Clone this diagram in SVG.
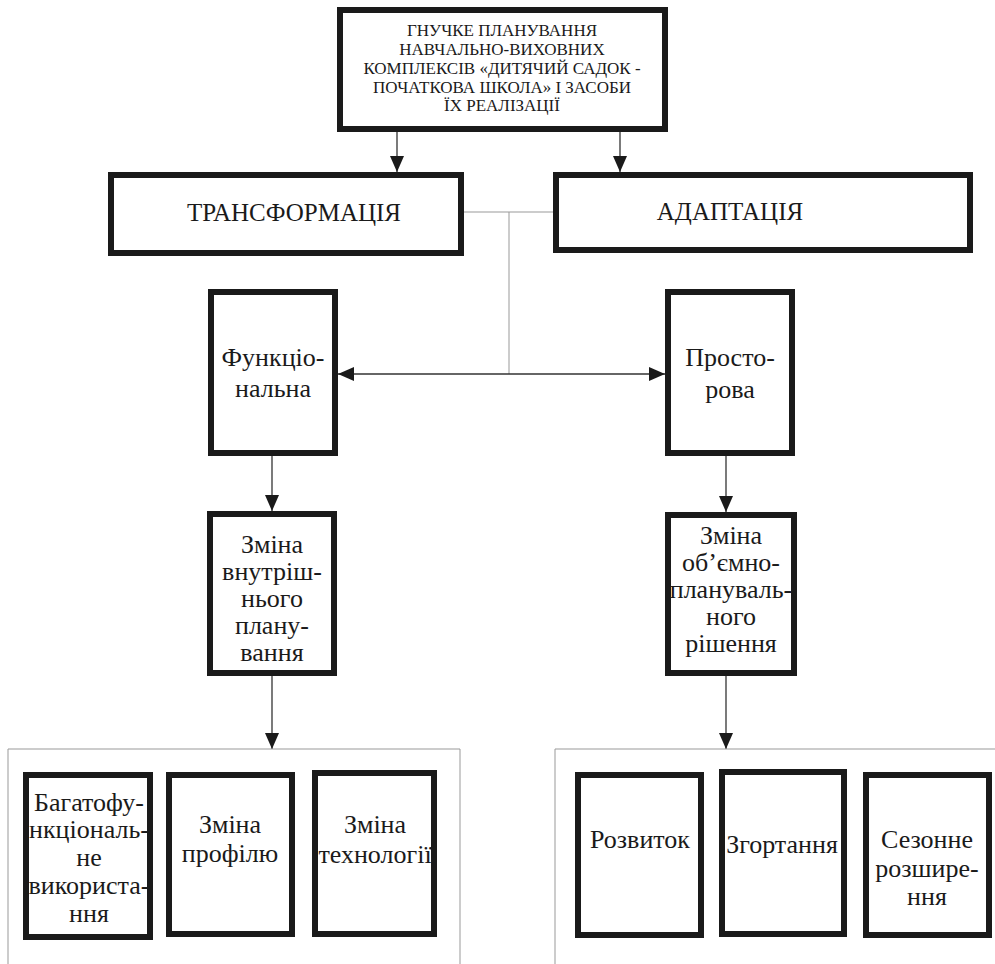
<svg xmlns="http://www.w3.org/2000/svg" width="995" height="964" viewBox="0 0 995 964" font-family="'Liberation Serif', 'Times New Roman', serif">
<style>
.box{fill:#fff;stroke:#1a1a1a;stroke-width:6}
.t{fill:#1a1a1a;text-anchor:middle;font-family:'Liberation Serif','Times New Roman',serif}
.big{font-size:26px}
.cap{font-size:25px}
.small{font-size:17px}
.ln{stroke:#333;stroke-width:1.3;fill:none}
.gl{stroke:#999;stroke-width:1;fill:none}
</style>
<defs>
<marker id="ah" viewBox="0 0 16 14" refX="16" refY="7" markerWidth="16" markerHeight="14" markerUnits="userSpaceOnUse" orient="auto-start-reverse">
<path d="M0,0 L16,7 L0,14 Z" fill="#1a1a1a"/>
</marker>
</defs>
<rect x="0" y="0" width="995" height="964" fill="#fff"/>
<g id="connectors">
<line class="ln" x1="397" y1="132" x2="397" y2="172" marker-end="url(#ah)"/>
<line class="ln" x1="620" y1="132" x2="620" y2="172" marker-end="url(#ah)"/>
<line class="gl" x1="464" y1="212" x2="553" y2="212"/>
<line class="gl" x1="509" y1="212" x2="509" y2="374"/>
<line class="ln" x1="338" y1="374" x2="665" y2="374" marker-start="url(#ah)" marker-end="url(#ah)"/>
<line class="ln" x1="272" y1="456" x2="272" y2="511" marker-end="url(#ah)"/>
<line class="ln" x1="726" y1="456" x2="726" y2="512" marker-end="url(#ah)"/>
<line class="ln" x1="272" y1="676" x2="272" y2="749" marker-end="url(#ah)"/>
<line class="ln" x1="726" y1="676" x2="726" y2="749" marker-end="url(#ah)"/>
<path class="gl" d="M8,964 V749 H460 V964"/>
<path class="gl" d="M555,964 V749 H995"/>
</g>
<g id="root">
<rect class="box" x="340" y="10" width="325" height="119"/>
<text class="t small" x="502" y="36">ГНУЧКЕ ПЛАНУВАННЯ</text>
<text class="t small" x="502" y="55">НАВЧАЛЬНО-ВИХОВНИХ</text>
<text class="t small" x="502" y="74">КОМПЛЕКСІВ «ДИТЯЧИЙ САДОК -</text>
<text class="t small" x="502" y="93">ПОЧАТКОВА ШКОЛА» І ЗАСОБИ</text>
<text class="t small" x="502" y="111">ЇХ РЕАЛІЗАЦІЇ</text>
</g>
<g id="transform">
<rect class="box" x="111" y="175" width="350" height="78"/>
<text class="t cap" x="294" y="221">ТРАНСФОРМАЦІЯ</text>
</g>
<g id="adapt">
<rect class="box" x="556" y="175" width="414" height="75"/>
<text class="t cap" x="730" y="220">АДАПТАЦІЯ</text>
</g>
<g id="func">
<rect class="box" x="211" y="292" width="124" height="161"/>
<text class="t big" x="273" y="366">Функціо-</text>
<text class="t big" x="273" y="397">нальна</text>
</g>
<g id="spatial">
<rect class="box" x="668" y="292" width="124" height="161"/>
<text class="t big" x="730" y="366">Просто-</text>
<text class="t big" x="730" y="398">рова</text>
</g>
<g id="internal">
<rect class="box" x="210" y="514" width="124" height="159"/>
<text class="t big" x="272" y="553">Зміна</text>
<text class="t big" x="272" y="580">внутріш-</text>
<text class="t big" x="272" y="607">нього</text>
<text class="t big" x="272" y="634">плану-</text>
<text class="t big" x="272" y="661">вання</text>
</g>
<g id="volume">
<rect class="box" x="668" y="515" width="126" height="158"/>
<text class="t big" x="731" y="544">Зміна</text>
<text class="t big" x="731" y="571">об’ємно-</text>
<text class="t big" x="731" y="598">плануваль-</text>
<text class="t big" x="731" y="625">ного</text>
<text class="t big" x="731" y="652">рішення</text>
</g>
<g id="multi">
<rect class="box" x="26" y="775" width="124" height="162"/>
<text class="t big" x="89" y="811">Багатофу-</text>
<text class="t big" x="89" y="838">нкціональ-</text>
<text class="t big" x="89" y="866">не</text>
<text class="t big" x="89" y="894">використа-</text>
<text class="t big" x="89" y="922">ння</text>
</g>
<g id="profile">
<rect class="box" x="169" y="775" width="123" height="159"/>
<text class="t big" x="230" y="833">Зміна</text>
<text class="t big" x="230" y="862">профілю</text>
</g>
<g id="tech">
<rect class="box" x="315" y="773" width="119" height="161"/>
<text class="t big" x="375" y="833">Зміна</text>
<text class="t big" x="375" y="863">технології</text>
</g>
<g id="develop">
<rect class="box" x="578" y="775" width="123" height="160"/>
<text class="t big" x="640" y="848">Розвиток</text>
</g>
<g id="fold">
<rect class="box" x="722" y="772" width="122" height="162"/>
<text class="t big" x="782" y="853">Згортання</text>
</g>
<g id="season">
<rect class="box" x="866" y="775" width="123" height="160"/>
<text class="t big" x="927" y="848">Сезонне</text>
<text class="t big" x="927" y="877">розшире-</text>
<text class="t big" x="927" y="905">ння</text>
</g>
</svg>
